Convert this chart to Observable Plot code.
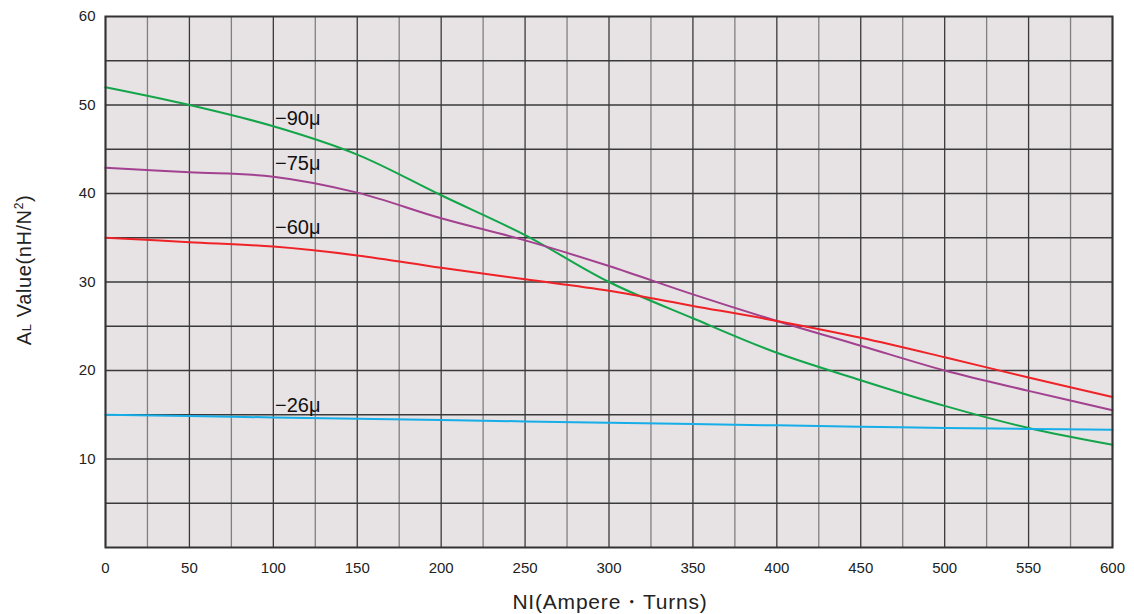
<!DOCTYPE html>
<html><head><meta charset="utf-8">
<script src="https://cdn.jsdelivr.net/npm/d3@7"></script>
<script src="https://cdn.jsdelivr.net/npm/@observablehq/plot@0.6"></script>
<style>body{margin:0;background:#fff;font-family:"Liberation Sans",Arial,sans-serif}</style>
</head><body><div id="chart"></div>
<script>
const ni = [0, 50, 100, 150, 200, 250, 300, 350, 400, 450, 500, 550, 600];
const mu90 = [52.0, 50.0, 47.6, 44.4, 39.8, 35.3, 30.0, 25.9, 22.0, 18.9, 16.0, 13.5, 11.6];
const mu75 = [42.9, 42.4, 41.9, 40.1, 37.2, 34.7, 31.8, 28.6, 25.6, 22.8, 20.0, 17.7, 15.5];
const mu60 = [35.0, 34.5, 34.0, 33.0, 31.6, 30.3, 29.0, 27.3, 25.6, 23.7, 21.5, 19.2, 17.0];
const mu26 = [15.0, 14.85, 14.7, 14.55, 14.4, 14.25, 14.1, 13.95, 13.8, 13.65, 13.5, 13.4, 13.3];
const seriesNames = ["−90μ", "−75μ", "−60μ", "−26μ"];
const seriesColors = ["#12a54a", "#a2418f", "#ee2227", "#15aee9"];
const labelX = [101, 101, 101, 101];
const labelY = [48.5, 43.4, 36.1, 16.0];
const xTicks = [0, 50, 100, 150, 200, 250, 300, 350, 400, 450, 500, 550, 600];
const xMinor = [25, 75, 125, 175, 225, 275, 325, 375, 425, 475, 525, 575];
const yTicks = [10, 20, 30, 40, 50, 60];
const yGrid = [5, 10, 15, 20, 25, 30, 35, 40, 45, 50, 55];

const all = [mu90, mu75, mu60, mu26];
const rows = [];
all.forEach((s, i) => s.forEach((v, j) => rows.push({x: ni[j], y: v, s: seriesNames[i]})));
const labels = seriesNames.map((n, i) => ({x: labelX[i], y: labelY[i], s: n}));

const plot = Plot.plot({
  width: 1134, height: 614,
  marginLeft: 105, marginRight: 22, marginTop: 16, marginBottom: 67,
  style: {fontFamily: '"Liberation Sans", Arial, sans-serif', fontSize: "15px", color: "#222", background: "#fff"},
  x: {domain: [0, 600], ticks: xTicks, tickSize: 0, tickPadding: 15, label: null},
  y: {domain: [0, 60], ticks: yTicks, tickSize: 0, tickPadding: 10, label: null},
  color: {domain: seriesNames, range: seriesColors},
  marks: [
    Plot.frame({fill: "#e7e2e4"}),
    Plot.ruleX(xMinor, {stroke: "#808080", strokeWidth: 1.3}),
    Plot.ruleX(xTicks, {stroke: "#3a3a3a", strokeWidth: 1.3}),
    Plot.ruleY(yGrid, {stroke: "#3a3a3a", strokeWidth: 1.3}),
    Plot.line(rows, {x: "x", y: "y", z: "s", stroke: "s", strokeWidth: 2, curve: "catmull-rom"}),
    Plot.text(labels, {x: "x", y: "y", text: "s", textAnchor: "start", fontSize: 20, fill: "#111"}),
    Plot.frame({stroke: "#333", strokeWidth: 2})
  ]
});
document.getElementById("chart").appendChild(plot);
const svg = d3.select(plot);
const yl = svg.append("text")
  .attr("transform", "translate(31,270) rotate(-90)")
  .attr("text-anchor", "middle")
  .attr("font-size", 20).attr("fill", "#222").attr("letter-spacing", 0.6);
yl.append("tspan").text("A");
yl.append("tspan").attr("font-size", 13).text("L");
yl.append("tspan").text(" Value(nH/N");
yl.append("tspan").attr("font-size", 12).attr("dy", -8).text("2");
yl.append("tspan").attr("dy", 8).text(")");
svg.append("text")
  .attr("x", 610).attr("y", 609)
  .attr("text-anchor", "middle")
  .attr("font-size", 21).attr("fill", "#222").attr("letter-spacing", 0.8)
  .text("NI(Ampere・Turns)");
</script></body></html>
